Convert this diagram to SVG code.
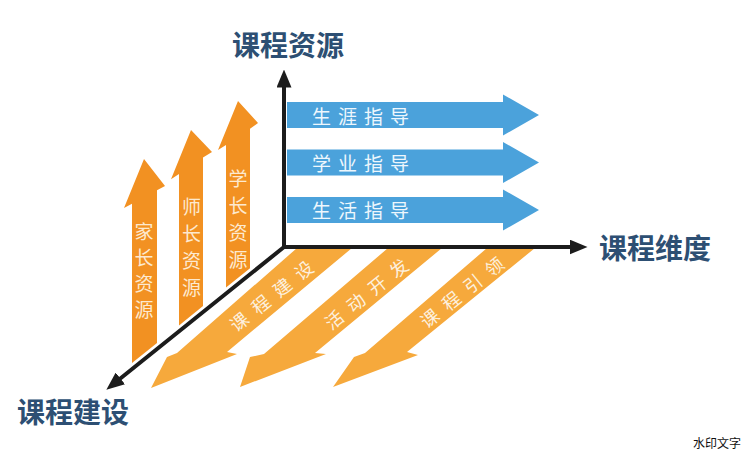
<svg xmlns="http://www.w3.org/2000/svg" width="745" height="454" viewBox="0 0 745 454">
<defs>
<style>
.axis{stroke:#1c1c1c;stroke-width:4;stroke-linecap:round;fill:none;marker-end:url(#ah)}
.blue{fill:#4BA2DB}
.ov{fill:#F29122}
.od{fill:#F6A93C}
.tb{font-family:"Noto Sans CJK SC",sans-serif;font-size:19px;fill:#EEF7FD;letter-spacing:7px}
.tv{font-family:"Noto Sans CJK SC",sans-serif;font-size:19px;fill:#FDE9CF;text-anchor:middle}
.td{font-family:"Noto Sans CJK SC",sans-serif;font-size:18px;fill:#FDF0DE;letter-spacing:9.5px}
.ta{font-family:"Noto Sans CJK SC",sans-serif;font-size:28px;font-weight:700;fill:#2D4F73}
.wm{font-family:"Noto Sans CJK SC",serif;font-size:12px;fill:#111}
</style>
<marker id="ah" markerUnits="userSpaceOnUse" markerWidth="18" markerHeight="15" viewBox="0 0 18 15" refX="0.5" refY="7.5" orient="auto"><path d="M0,0 L18,7.5 L0,15 z" fill="#1c1c1c"/></marker>
<path id="barrow" d="M0,-13 L216,-13 L216,-20.5 L252,0 L216,20.5 L216,13 L0,13 z"/>
</defs>
<rect width="745" height="454" fill="#ffffff"/>

<g id="family-resources">
<polygon class="ov" points="144,159 165,186 157,190.3 157,343 132,363 132,203.7 124,208"/>
<text class="tv"><tspan x="144" y="239">家</tspan><tspan x="144" y="265">长</tspan><tspan x="144" y="291">资</tspan><tspan x="144" y="317">源</tspan></text>
</g>
<g id="teacher-resources">
<polygon class="ov" points="191,130 212,152 203,157.5 203,306 179,325.4 179,174 171,179.3"/>
<text class="tv"><tspan x="191.5" y="214">师</tspan><tspan x="191.5" y="241">长</tspan><tspan x="191.5" y="268">资</tspan><tspan x="191.5" y="295">源</tspan></text>
</g>
<g id="senior-resources">
<polygon class="ov" points="238,101 258,123 250,128.8 250,268.3 226,287.6 226,145 218,150"/>
<text class="tv"><tspan x="238" y="186">学</tspan><tspan x="238" y="213">长</tspan><tspan x="238" y="240">资</tspan><tspan x="238" y="267">源</tspan></text>
</g>

<g id="course-building">
<polygon class="od" points="297,248 352,248 227,352 237,354 151,388 167,357 177,353"/>
<text class="td" transform="translate(271.5,296) rotate(-38.6)" x="-50.25" y="6.8">课程建设</text>
</g>
<g id="activity-dev">
<polygon class="od" points="388,248 442,248 315,353 326,354 240,387 250,357 264,354"/>
<text class="td" transform="translate(366.5,294) rotate(-38.6)" x="-50.25" y="6.8">活动开发</text>
</g>
<g id="course-lead">
<polygon class="od" points="487,248 535,248 407,352 418,355 333,387 354,357 365,353"/>
<text class="td" transform="translate(462,292.5) rotate(-38.6)" x="-50.25" y="6.8">课程引领</text>
</g>

<g id="career-guide">
<use href="#barrow" class="blue" x="287" y="115"/>
<text class="tb" x="312" y="123.5">生涯指导</text>
</g>
<g id="study-guide">
<use href="#barrow" class="blue" x="287" y="162.5"/>
<text class="tb" x="312" y="170.5">学业指导</text>
</g>
<g id="life-guide">
<use href="#barrow" class="blue" x="287" y="210"/>
<text class="tb" x="312" y="218">生活指导</text>
</g>

<g id="connectors">
<line class="axis" x1="284" y1="247" x2="284" y2="87"/>
<line class="axis" x1="284" y1="247" x2="570" y2="247"/>
<line class="axis" x1="284" y1="247" x2="120" y2="378.7"/>
</g>

<g id="axis-labels">
<text class="ta" x="232" y="56">课程资源</text>
<text class="ta" x="599" y="258.5">课程维度</text>
<text class="ta" x="17" y="422.5">课程建设</text>
</g>
<text class="wm" x="693" y="448">水印文字</text>
</svg>
